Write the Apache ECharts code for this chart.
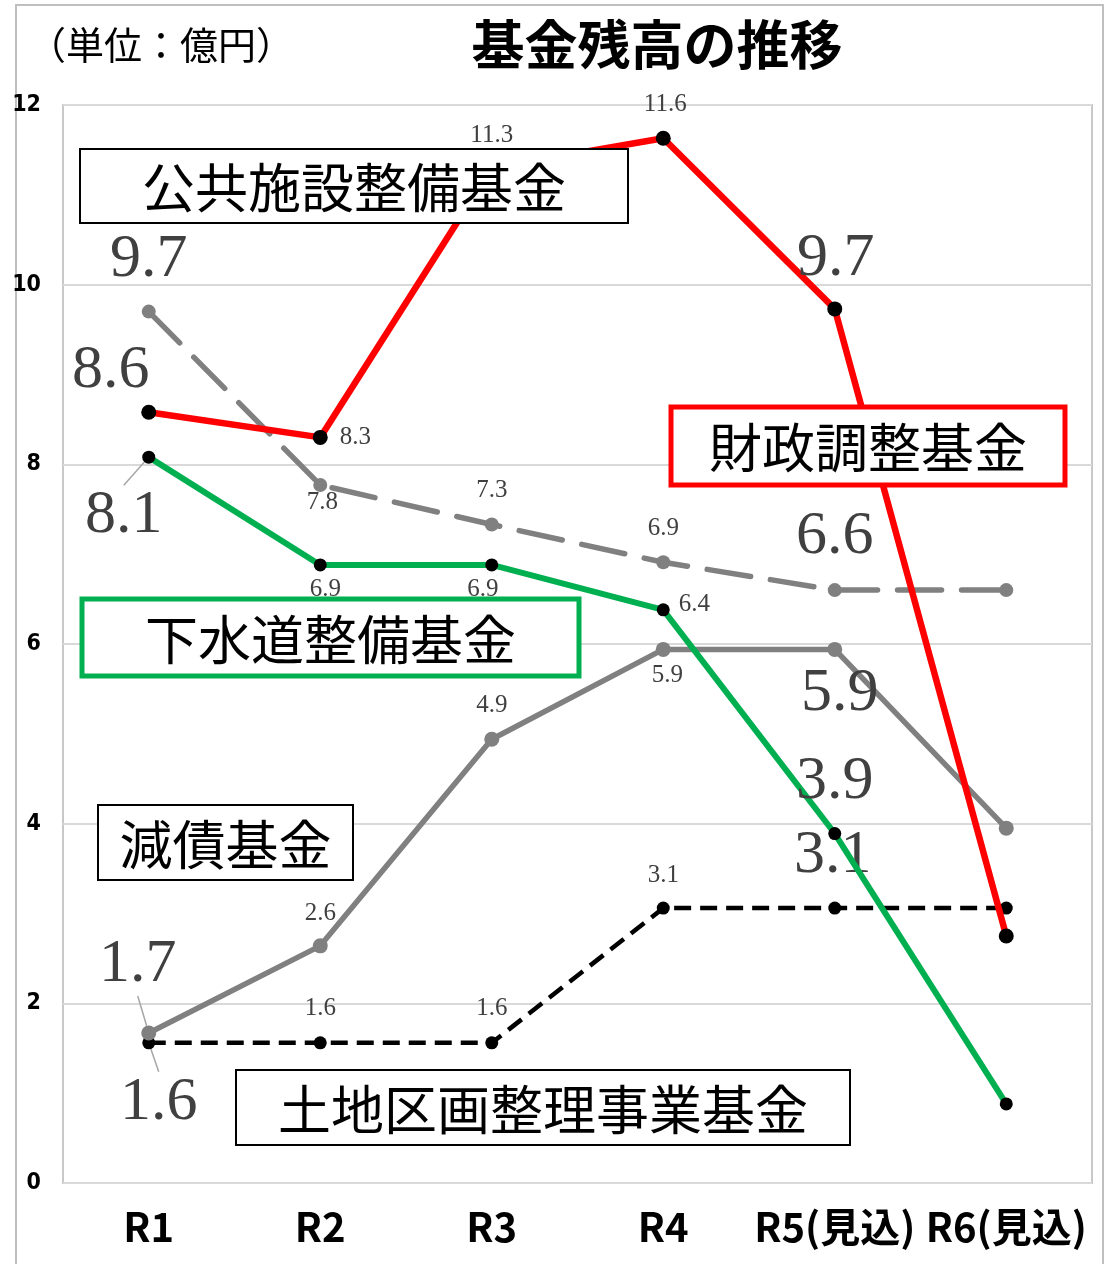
<!DOCTYPE html>
<html><head><meta charset="utf-8">
<script src="https://cdn.jsdelivr.net/npm/echarts@6/dist/echarts.min.js"></script>
<style>html,body{margin:0;padding:0;background:#fff}#c{width:1109px;height:1264px}</style>
</head><body><div id="c"></div>
<script>
// ---- data ----
const categories = ['R1', 'R2', 'R3', 'R4', 'R5(見込)', 'R6(見込)'];
const zaiseiChousei = [8.58, 8.30, 11.30, 11.63, 9.73, 2.75];     // 財政調整基金
const koukyouShisetsu = [9.70, 7.77, 7.33, 6.91, 6.60, 6.60];     // 公共施設整備基金
const gesuidou = [8.08, 6.88, 6.88, 6.38, 3.89, 0.88];            // 下水道整備基金
const gensai = [1.67, 2.64, 4.94, 5.94, 5.94, 3.95];              // 減債基金
const tochiKukaku = [1.56, 1.56, 1.56, 3.06, 3.06, 3.06];         // 土地区画整理事業基金
const seriesNames = ['財政調整基金', '公共施設整備基金', '下水道整備基金', '減債基金', '土地区画整理事業基金'];
const yMin = 0, yMax = 12, yInterval = 2;

// ---- label placement (style, not data): [dx, dy, size, leader] ----
const placeRed   = [[-38,-42,'L'],[35,0,'S'],[0,-32,'S'],[2,-34,'S'],[1,-50,'L'],null];
const placeGrayD = [[0,-52,'L'],[2,17,'S'],[0,-34,'S'],[0,-34,'S'],[0,-53,'L'],null];
const placeGreen = [[-25,59,'L',1],[5,24,'S'],[-9,24,'S'],[31,-5,'S'],[0,-52,'L'],null];
const placeGrayS = [[-11,-68,'L',1],[0,-32,'S'],[0,-34,'S'],[4,26,'S'],[5,44,'L'],null];
const placeBlack = [[10,60,'L',1],[0,-34,'S'],[0,-34,'S'],[0,-33,'S'],[-2,-52,'L'],null];

const SERIF = '"Liberation Serif","DejaVu Serif",serif';
const GOTHIC = '"Noto Sans CJK JP","Noto Sans",sans-serif';

function build(values, place) {
  return values.map((v, i) => {
    const p = place[i];
    if (!p) return { value: v, label: { show: false } };
    return {
      value: v,
      label: { show: true, offset: [p[0], p[1]], fontSize: p[2] === 'L' ? 62 : 25 },
      labelLine: { show: !!p[3], lineStyle: { color: '#a6a6a6', width: 1.5 }, smooth: false, length2: 0 }
    };
  });
}

const baseLabel = {
  position: 'inside', align: 'center', verticalAlign: 'middle',
  color: '#404040', fontFamily: SERIF,
  formatter: p => p.value.toFixed(1)
};

function box(x, y, w, h, color, lw, text) {
  return {
    type: 'group', z: 100,
    children: [
      { type: 'rect', z: 100, shape: { x: x, y: y, width: w, height: h },
        style: { fill: '#fff', stroke: color, lineWidth: lw } },
      { type: 'text', z: 101, x: x + w / 2, y: y + h / 2 + 2,
        style: { text: text, font: '53px ' + GOTHIC, fill: '#000',
                 align: 'center', verticalAlign: 'middle', textAlign: 'center', textVerticalAlign: 'middle' } }
    ]
  };
}

const chart = echarts.init(document.getElementById('c'), null, { renderer: 'canvas' });
chart.setOption({
  animation: false,
  backgroundColor: '#fff',
  grid: { left: 63, right: 17, top: 105, bottom: 81, show: true, borderColor: '#c8c8c8', borderWidth: 2, backgroundColor: 'transparent' },
  xAxis: {
    type: 'category', data: categories, boundaryGap: true,
    axisLine: { show: false }, axisTick: { show: false },
    axisLabel: { color: '#000', fontSize: 40, fontWeight: 'bold', fontFamily: GOTHIC, margin: 24, interval: 0 }
  },
  yAxis: {
    type: 'value', min: yMin, max: yMax, interval: yInterval,
    axisLine: { show: false }, axisTick: { show: false },
    axisLabel: { color: '#000', fontSize: 23, fontWeight: 'bold', fontFamily: '"Liberation Sans Narrow","DejaVu Sans Condensed",sans-serif', margin: 22 },
    splitLine: { lineStyle: { color: '#d9d9d9', width: 2 } }
  },
  series: [
    { name: seriesNames[4], type: 'line', z: 2, data: build(tochiKukaku, placeBlack),
      symbol: 'circle', symbolSize: 13, itemStyle: { color: '#000' },
      lineStyle: { color: '#000', width: 4.5, type: [17, 9] }, label: baseLabel },
    { name: seriesNames[3], type: 'line', z: 3, data: build(gensai, placeGrayS),
      symbol: 'circle', symbolSize: 15, itemStyle: { color: '#808080' },
      lineStyle: { color: '#808080', width: 5.5 }, label: baseLabel },
    { name: seriesNames[1], type: 'line', z: 4, data: build(koukyouShisetsu, placeGrayD),
      symbol: 'circle', symbolSize: 14, itemStyle: { color: '#808080' },
      lineStyle: { color: '#808080', width: 5.5, type: [44, 20], cap: 'round' }, label: baseLabel },
    { name: seriesNames[2], type: 'line', z: 5, data: build(gesuidou, placeGreen),
      symbol: 'circle', symbolSize: 13, itemStyle: { color: '#000' },
      lineStyle: { color: '#00b050', width: 6 }, label: baseLabel },
    { name: seriesNames[0], type: 'line', z: 6, data: build(zaiseiChousei, placeRed),
      symbol: 'circle', symbolSize: 15, itemStyle: { color: '#000' },
      lineStyle: { color: '#ff0000', width: 6.5 }, label: baseLabel }
  ],
  graphic: [
    { type: 'rect', z: -10, shape: { x: 16, y: 5, width: 1087, height: 1275 },
      style: { fill: 'none', stroke: '#bfbfbf', lineWidth: 2 } },
    { type: 'text', z: 100, x: 28, y: 45,
      style: { text: '（単位：億円）', font: '38px ' + GOTHIC, fill: '#000', align: 'left', verticalAlign: 'middle', textAlign: 'left', textVerticalAlign: 'middle' } },
    { type: 'text', z: 100, x: 657, y: 45,
      style: { text: '基金残高の推移', font: 'bold 53px ' + GOTHIC, fill: '#000', align: 'center', verticalAlign: 'middle', textAlign: 'center', textVerticalAlign: 'middle' } },
    box(80, 149, 548, 74, '#000', 2, seriesNames[1]),
    box(671, 407, 394, 78, '#ff0000', 5, seriesNames[0]),
    box(82, 599, 497, 77, '#00b050', 5, seriesNames[2]),
    box(98, 805, 255, 75, '#000', 2, seriesNames[3]),
    box(236, 1070, 614, 75, '#000', 2, seriesNames[4])
  ]
});
</script>
</body></html>
